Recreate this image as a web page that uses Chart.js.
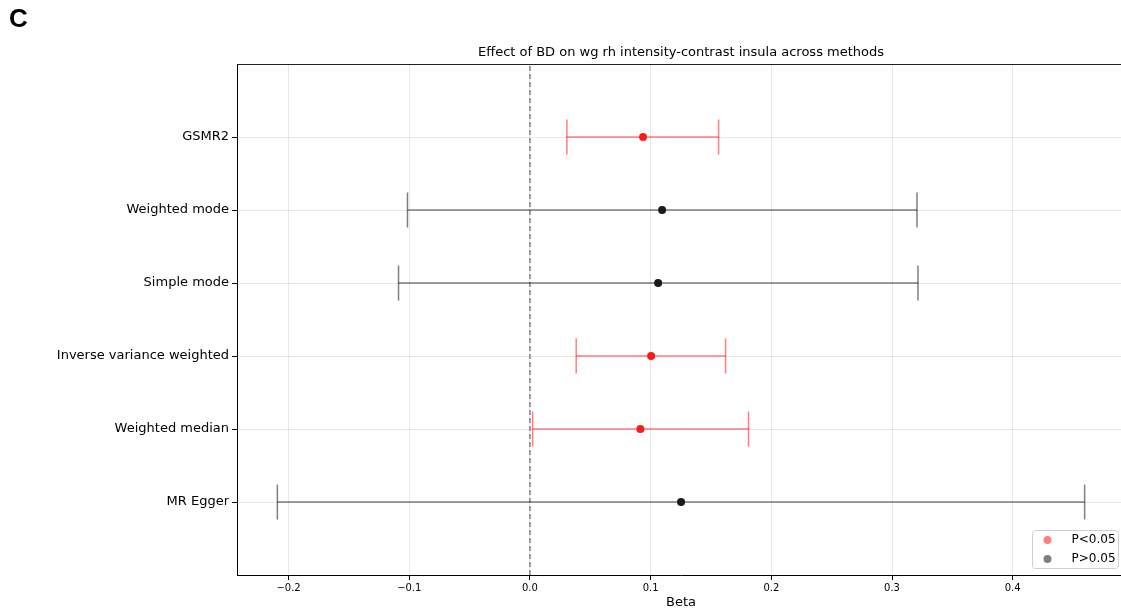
<!DOCTYPE html>
<html>
  <head>
    <title>Effect of BD across methods</title>
    <script src="https://cdn.jsdelivr.net/npm/chart.js"></script>
    <style>
      body { margin: 0; overflow: hidden; background: #fff; }
    </style>
  </head>
  <body>
    <canvas id="forestChart" width="1125" height="613"></canvas>

    <script>
      // methods listed bottom (y = 0) to top (y = 5)
      const methods = [
        "MR Egger",
        "Weighted median",
        "Inverse variance weighted",
        "Simple mode",
        "Weighted mode",
        "GSMR2",
      ];
      const beta = [0.1252, 0.0915, 0.1004, 0.1062, 0.1095, 0.0937];
      const ciLower = [-0.2093, 0.0022, 0.0383, -0.1089, -0.1015, 0.0306];
      const ciUpper = [0.4596, 0.1811, 0.1621, 0.3215, 0.3207, 0.1563];
      const significant = [false, true, true, false, false, true];
      const xTicks = [-0.2, -0.1, 0.0, 0.1, 0.2, 0.3, 0.4];
      const legendLabels = ["P<0.05", "P>0.05"];

      const titleText = "Effect of BD on wg rh intensity-contrast insula across methods";
      const sigColor = "rgba(255, 0, 0, 0.5)";
      const nsColor = "rgba(0, 0, 0, 0.5)";

      // x limits like matplotlib auto margins (5%)
      const lo = Math.min(...ciLower);
      const hi = Math.max(...ciUpper);
      const pad = (hi - lo) * 0.05;

      Chart.defaults.font.family = "'DejaVu Sans', sans-serif";
      Chart.defaults.color = "#000";

      const datasets = [];

      // dashed zero line
      datasets.push({
        type: "line",
        data: [{ x: 0, y: -1 }, { x: 0, y: 6 }],
        borderColor: "#808080",
        borderWidth: 1.5,
        borderDash: [5, 3],
        pointRadius: 0,
        order: 3,
      });

      // error bars with caps
      methods.forEach((m, i) => {
        const c = significant[i] ? sigColor : nsColor;
        datasets.push({
          type: "line",
          data: [{ x: ciLower[i], y: i }, { x: ciUpper[i], y: i }],
          borderColor: c,
          borderWidth: 1.5,
          pointStyle: "line",
          rotation: 90,
          pointRadius: 17.5,
          pointBorderColor: c,
          pointBorderWidth: 1.5,
          order: 2,
        });
      });

      // point estimates
      datasets.push({
        type: "scatter",
        data: methods.map((m, i) => ({ x: beta[i], y: i })).filter((p, i) => significant[i]),
        backgroundColor: "#ff1a1a",
        borderWidth: 0,
        pointRadius: 4,
        order: 0,
      });
      datasets.push({
        type: "scatter",
        data: methods.map((m, i) => ({ x: beta[i], y: i })).filter((p, i) => !significant[i]),
        backgroundColor: "#1a1a1a",
        borderWidth: 0,
        pointRadius: 4,
        order: 0,
      });

      // extra drawing: panel letter, title, top spine, legend
      const decorPlugin = {
        id: "decor",
        afterDraw(chart) {
          const { ctx, chartArea } = chart;
          ctx.save();

          ctx.fillStyle = "#000";
          ctx.font = "bold 26px 'Liberation Sans', Arial, sans-serif";
          ctx.textBaseline = "alphabetic";
          ctx.textAlign = "left";
          ctx.fillText("C", 9, 27);

          ctx.font = "13px 'DejaVu Sans'";
          ctx.textAlign = "center";
          ctx.textBaseline = "middle";
          ctx.fillText(titleText, (chartArea.left + chartArea.right) / 2, 53);

          ctx.strokeStyle = "#222";
          ctx.lineWidth = 1;
          ctx.beginPath();
          ctx.moveTo(chartArea.left, chartArea.top + 0.5);
          ctx.lineTo(chartArea.right, chartArea.top + 0.5);
          ctx.stroke();

          // legend box in lower right
          const bx = chartArea.right - 92.5;
          const by = chartArea.bottom - 44.5;
          ctx.fillStyle = "rgba(255, 255, 255, 0.8)";
          ctx.strokeStyle = "#d0d0d0";
          ctx.beginPath();
          ctx.roundRect(bx, by, 86, 38, 3);
          ctx.fill();
          ctx.stroke();
          const colors = [sigColor, nsColor];
          legendLabels.forEach((lab, k) => {
            const y = by + 9.5 + k * 19;
            ctx.fillStyle = colors[k];
            ctx.beginPath();
            ctx.arc(bx + 15, y, 4, 0, Math.PI * 2);
            ctx.fill();
            ctx.fillStyle = "#000";
            ctx.textAlign = "left";
            ctx.font = "12px 'DejaVu Sans'";
            ctx.fillText(lab, bx + 39, y);
          });
          ctx.restore();
        },
      };

      const ctx = document.getElementById("forestChart").getContext("2d");
      new Chart(ctx, {
        data: { datasets },
        options: {
          responsive: false,
          animation: false,
          devicePixelRatio: 1,
          layout: {
            autoPadding: false,
            padding: { top: 64, left: 0, right: 0, bottom: 0 },
          },
          plugins: {
            legend: { display: false },
            tooltip: { enabled: false },
          },
          scales: {
            x: {
              type: "linear",
              min: lo - pad,
              max: hi + pad,
              afterBuildTicks: (scale) => {
                scale.ticks = xTicks.map((v) => ({ value: v }));
              },
              afterFit: (scale) => {
                scale.height = 38;
              },
              ticks: {
                font: { size: 10 },
                padding: 2,
                maxRotation: 0,
                callback: (v) => Number(v).toFixed(1).replace("-", "\u2212"),
              },
              grid: {
                color: "rgba(0, 0, 0, 0.09)",
                tickColor: "#000",
                tickLength: 5,
              },
              border: { color: "#000", width: 1 },
              title: {
                display: true,
                text: "Beta",
                font: { size: 13 },
                padding: { top: 0, bottom: 3 },
              },
            },
            y: {
              type: "linear",
              min: -1,
              max: 6,
              afterBuildTicks: (scale) => {
                scale.ticks = methods.map((m, i) => ({ value: i }));
              },
              afterFit: (scale) => {
                scale.width = 237;
              },
              ticks: {
                font: { size: 13 },
                padding: 3,
                callback: (v) => methods[v] ?? "",
              },
              grid: {
                color: "rgba(0, 0, 0, 0.09)",
                tickColor: "#000",
                tickLength: 5,
              },
              border: { color: "#000", width: 1 },
            },
          },
        },
        plugins: [decorPlugin],
      });
    </script>
  </body>
</html>
